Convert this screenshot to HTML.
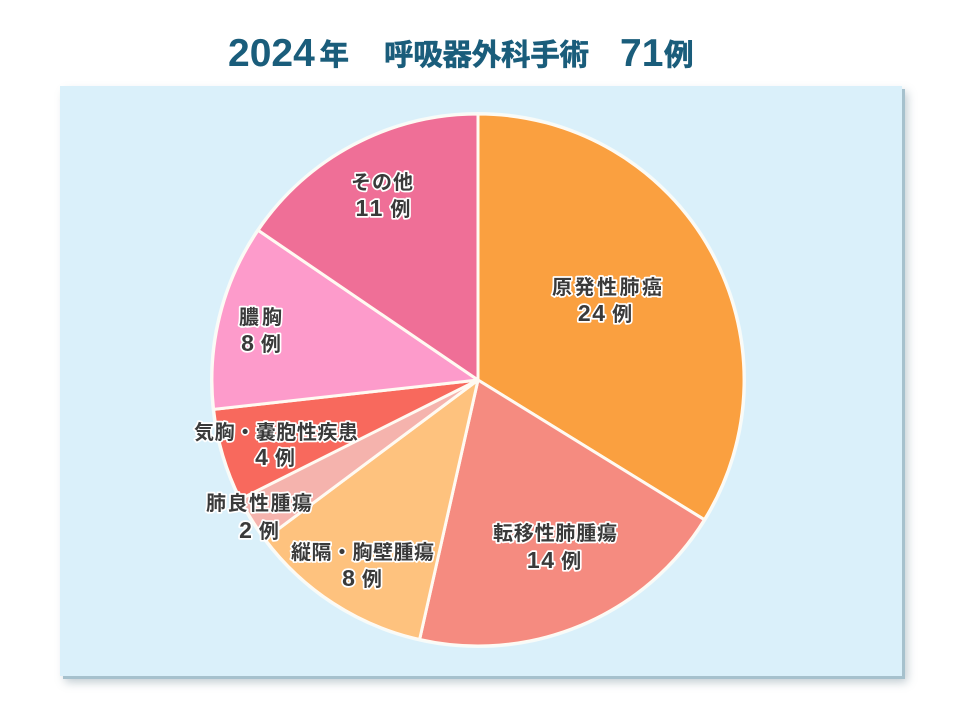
<!DOCTYPE html>
<html lang="ja">
<head>
<meta charset="utf-8">
<style>
  html,body{margin:0;padding:0;background:#ffffff;}
  body{width:960px;height:720px;position:relative;overflow:hidden;}
  .panel{position:absolute;left:60px;top:86px;width:842px;height:590px;background:#daf0fa;
    box-shadow:3px 3px 0 #a6c1cd, 5px 6px 9px rgba(90,120,135,0.4);}
  svg{position:absolute;left:0;top:0;}
  .lbl{font-family:"Liberation Sans","Noto Sans CJK JP",sans-serif;font-size:20px;font-weight:bold;fill:#3a3a3a;
    stroke:#ffffff;stroke-width:3.4px;stroke-linejoin:round;paint-order:stroke fill;}
  .num{font-family:"Liberation Sans","Noto Sans CJK JP",sans-serif;font-weight:bold;fill:#3a3a3a;
    stroke:#ffffff;stroke-width:3.4px;stroke-linejoin:round;paint-order:stroke fill;}
  .t-dig{font-family:"Liberation Sans",sans-serif;font-weight:bold;font-size:39px;fill:#1a5d7b;}
  .t-cjk{font-family:"Liberation Sans","Noto Sans CJK JP",sans-serif;font-weight:bold;font-size:29.5px;fill:#1a5d7b;
    stroke:#1a5d7b;stroke-width:0.6px;}
</style>
</head>
<body>
<div class="panel"></div>
<svg width="960" height="720" viewBox="0 0 960 720" xmlns="http://www.w3.org/2000/svg">
  <!-- Title -->
  <text class="t-dig" x="228" y="66">2024</text>
  <text class="t-cjk" x="319.5" y="65">年</text>
  <text class="t-cjk" x="384" y="65" textLength="205" lengthAdjust="spacing">呼吸器外科手術</text>
  <text class="t-dig" x="620" y="66">71</text>
  <text class="t-cjk" x="664" y="65">例</text>

  <!-- Pie -->
  <g stroke="#fffaf2" stroke-width="3" stroke-linejoin="round">
    <path d="M478,380 L478,114 A266,266 0 0 1 704.4,519.7 Z" fill="#faa040"/>
    <path d="M478,380 L704.4,519.7 A266,266 0 0 1 419.6,639.5 Z" fill="#f58b80"/>
    <path d="M478,380 L419.6,639.5 A266,266 0 0 1 264.9,539.1 Z" fill="#fec27e"/>
    <path d="M478,380 L264.9,539.1 A266,266 0 0 1 240.2,499.2 Z" fill="#f5b3ad"/>
    <path d="M478,380 L240.2,499.2 A266,266 0 0 1 213.6,409.4 Z" fill="#f8695d"/>
    <path d="M478,380 L213.6,409.4 A266,266 0 0 1 258.1,230.3 Z" fill="#fd9bcb"/>
    <path d="M478,380 L258.1,230.3 A266,266 0 0 1 478,114 Z" fill="#ef6f97"/>
  </g>
  <circle cx="478" cy="380" r="267" fill="none" stroke="#f7fbf9" stroke-width="2"/>

  <!-- Labels -->
  <text class="lbl" x="552" y="294" textLength="110" lengthAdjust="spacing">原発性肺癌</text>
  <text class="num" x="605" y="321" text-anchor="middle"><tspan font-size="23" letter-spacing="1.5">24</tspan><tspan font-size="20"> 例</tspan></text>

  <text class="lbl" x="493" y="540" textLength="124" lengthAdjust="spacing">転移性肺腫瘍</text>
  <text class="num" x="554" y="568" text-anchor="middle"><tspan font-size="23" letter-spacing="1.5">14</tspan><tspan font-size="20"> 例</tspan></text>

  <text class="lbl" x="291" y="559" textLength="143" lengthAdjust="spacing">縦隔・胸壁腫瘍</text>
  <text class="num" x="362" y="586" text-anchor="middle"><tspan font-size="23" letter-spacing="1.5">8</tspan><tspan font-size="20"> 例</tspan></text>

  <text class="lbl" x="206" y="510" textLength="106" lengthAdjust="spacing">肺良性腫瘍</text>
  <text class="num" x="259" y="538" text-anchor="middle"><tspan font-size="23" letter-spacing="1.5">2</tspan><tspan font-size="20"> 例</tspan></text>

  <text class="lbl" x="194" y="439" textLength="164" lengthAdjust="spacing">気胸・嚢胞性疾患</text>
  <text class="num" x="275" y="465" text-anchor="middle"><tspan font-size="23" letter-spacing="1.5">4</tspan><tspan font-size="20"> 例</tspan></text>

  <text class="lbl" x="239" y="324" textLength="43" lengthAdjust="spacing">膿胸</text>
  <text class="num" x="261" y="351" text-anchor="middle"><tspan font-size="23" letter-spacing="1.5">8</tspan><tspan font-size="20"> 例</tspan></text>

  <text class="lbl" x="351" y="189" textLength="62" lengthAdjust="spacing">その他</text>
  <text class="num" x="383" y="216" text-anchor="middle"><tspan font-size="23" letter-spacing="2.5">11</tspan><tspan font-size="20"> 例</tspan></text>
</svg>
</body>
</html>
